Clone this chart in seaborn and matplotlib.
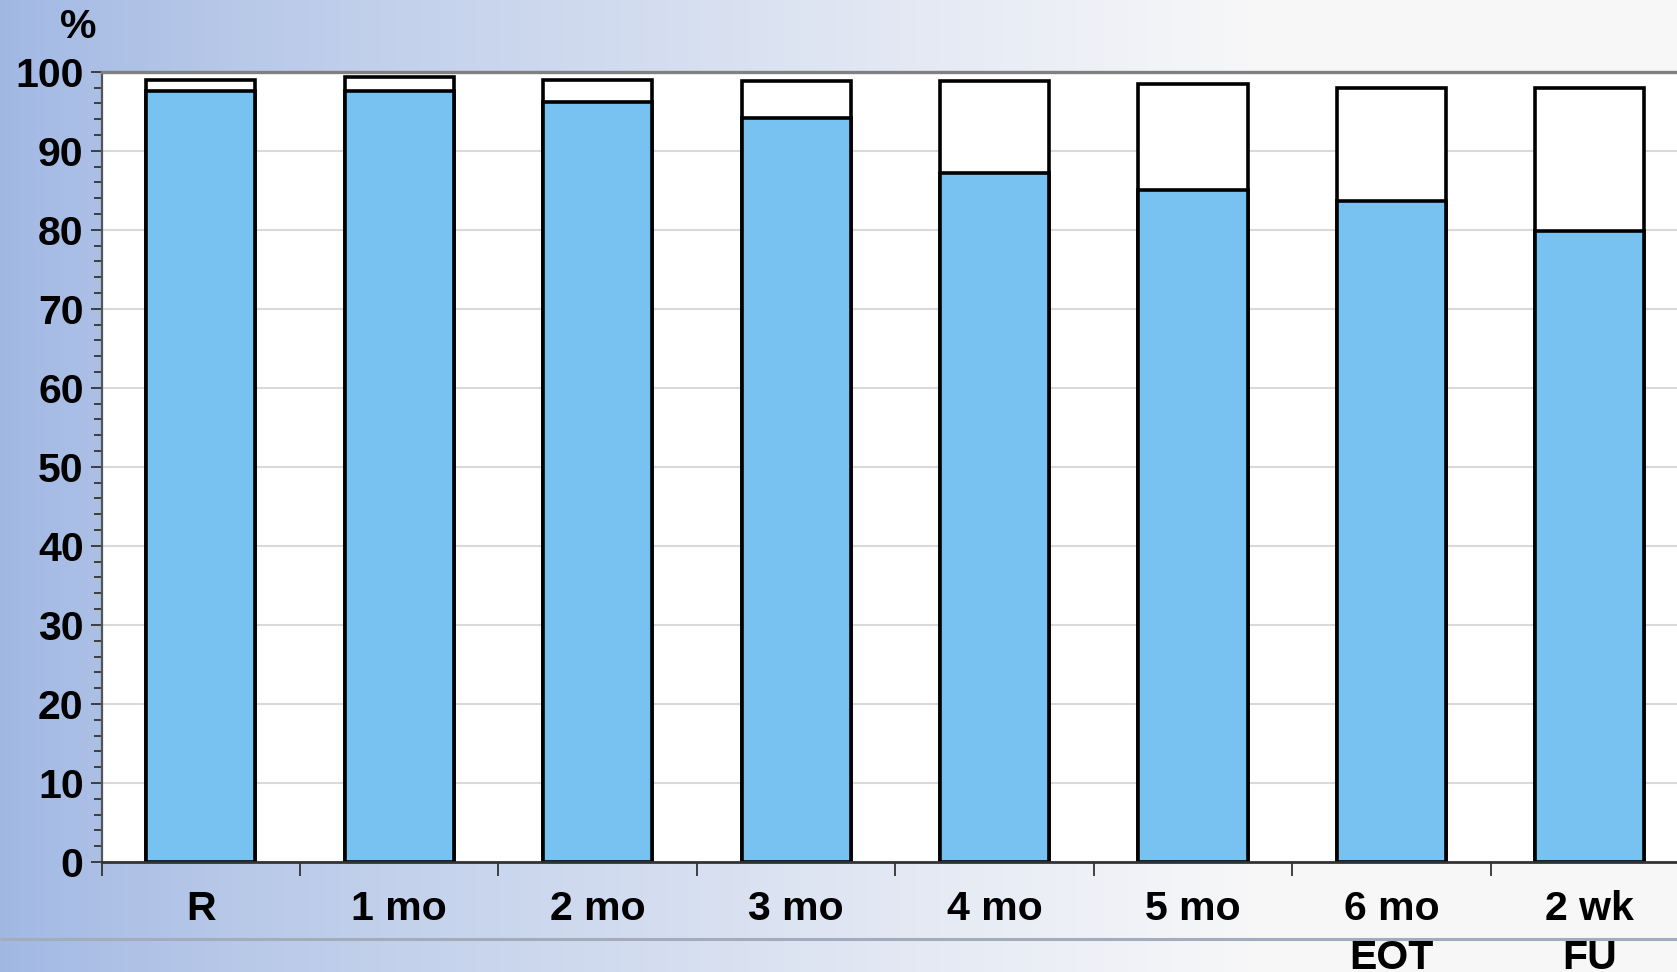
import numpy as np
import pandas as pd
import matplotlib
matplotlib.use("Agg")
import matplotlib.pyplot as plt
import seaborn as sns
from matplotlib.ticker import MultipleLocator, FixedLocator

categories = ["R", "1 mo", "2 mo", "3 mo", "4 mo", "5 mo", "6 mo\nEOT", "2 wk\nFU"]
total_values = [98.9, 99.3, 98.9, 98.8, 98.8, 98.4, 97.9, 97.9]
blue_values = [97.5, 97.5, 96.2, 94.2, 87.2, 85.0, 83.7, 79.8]
y_ticks = [0, 10, 20, 30, 40, 50, 60, 70, 80, 90, 100]

df = pd.DataFrame({"cat": categories, "total": total_values, "blue": blue_values})

sns.set_theme(style="white")
plt.rcParams["font.family"] = ["Liberation Sans", "DejaVu Sans"]
plt.rcParams["font.weight"] = "bold"

W, H = 1677, 972
fig = plt.figure(figsize=(W / 100, H / 100), dpi=100)

# background gradient
bg = fig.add_axes([0, 0, 1, 1], zorder=-10)
xs = np.linspace(0, 1, 400)
t = np.clip(xs / 0.75, 0, 1) ** 0.8
left = np.array([0.63, 0.72, 0.89])
right = np.array([0.97, 0.97, 0.975])
row = left[None, :] * (1 - t[:, None]) + right[None, :] * t[:, None]
img = np.repeat(row[None, :, :], 10, axis=0)
bg.imshow(img, aspect="auto", extent=[0, 1, 0, 1], origin="lower")
bg.plot([0, 1], [1 - 939 / H, 1 - 939 / H], color="#a3acbb", lw=2.2, solid_capstyle="butt")
bg.set_xlim(0, 1)
bg.set_ylim(0, 1)
bg.axis("off")

ax_left = 101.6 / W
ax_right = 1689 / W
ax_bottom = 1 - 862 / H
ax_top = 1 - 71.7 / H
ax = fig.add_axes([ax_left, ax_bottom, ax_right - ax_left, ax_top - ax_bottom])
ax.set_facecolor("white")

sns.barplot(data=df, x="cat", y="total", order=categories, color="white",
            edgecolor="black", linewidth=2.6, width=0.55, errorbar=None,
            saturation=1, ax=ax)
sns.barplot(data=df, x="cat", y="blue", order=categories, color="#77C2F0",
            edgecolor="black", linewidth=2.6, width=0.55, errorbar=None,
            saturation=1, ax=ax)

ax.set_xlim(-0.5, len(categories) - 0.5)
ax.set_ylim(0, 100)
ax.set_xlabel("")
ax.set_ylabel("")

ax.set_axisbelow(True)
ax.yaxis.grid(True, color="#d9d9d9", lw=1.5)
ax.xaxis.grid(False)
ax.set_yticks(y_ticks)
ax.yaxis.set_minor_locator(MultipleLocator(2))
ax.xaxis.set_minor_locator(FixedLocator(np.arange(-0.5, len(categories), 1.0)))

ax.tick_params(axis="y", which="major", direction="out", length=8, width=1.3,
               color="#333333", labelsize=29.5, pad=5, left=True)
ax.tick_params(axis="y", which="minor", direction="out", length=6, width=1.3,
               color="#333333", left=True)
ax.tick_params(axis="x", which="major", length=0, labelsize=29.5, pad=20)
ax.tick_params(axis="x", which="minor", direction="out", length=10, width=1.3,
               color="#333333", bottom=True)
for lab in ax.get_xticklabels() + ax.get_yticklabels():
    lab.set_fontweight("bold")
    lab.set_color("black")
for lab in ax.get_xticklabels():
    lab.set_linespacing(1.36)

ax.spines["top"].set_color("#808080")
ax.spines["top"].set_linewidth(2.4)
ax.spines["left"].set_color("#555555")
ax.spines["left"].set_linewidth(1.6)
ax.spines["bottom"].set_color("#333333")
ax.spines["bottom"].set_linewidth(2.0)
ax.spines["right"].set_visible(False)

fig.text(78 / W, 1 - 27 / H, "%", fontsize=29.5, fontweight="bold", ha="center",
         va="center", color="black")

fig.savefig("out.png", dpi=100)
